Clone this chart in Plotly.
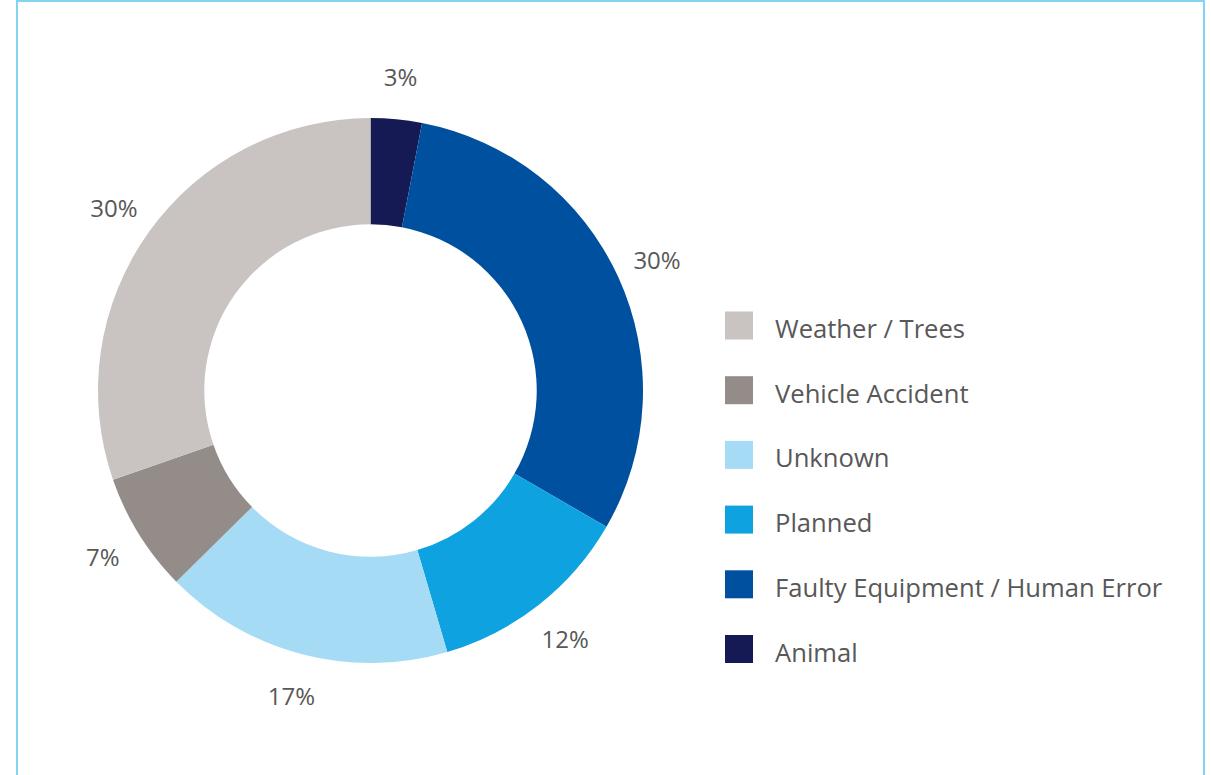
import plotly.graph_objects as go

# Data (legend order, top to bottom)
labels = ["Weather / Trees", "Vehicle Accident", "Unknown", "Planned",
          "Faulty Equipment / Human Error", "Animal"]
values = [30, 7, 17, 12, 30, 3]
colors = ["#c9c3c1", "#948c89", "#a6dbf5", "#0ea2e0", "#0050a0", "#151a54"]

W, H = 1211, 775
FONT = "'Open Sans', Lato, sans-serif"
TEXT_COLOR = "#585858"

# slices are drawn clockwise from 12 o'clock starting with the last legend entry
pie_labels = labels[::-1]
pie_values = values[::-1]
pie_colors = colors[::-1]

CX, CY, R = 370.5, 390.5, 272.5

def dom(r):
    return dict(x=[(CX - r) / W, (CX + r) / W], y=[1 - (CY + r) / H, 1 - (CY - r) / H])

fig = go.Figure()

# transparent thin outer ring that carries the percentage labels (centred on each slice's mid-angle)
R2 = 345
fig.add_trace(go.Pie(
    labels=pie_labels,
    values=pie_values,
    hole=0.826,
    sort=False,
    direction="clockwise",
    rotation=0,
    marker=dict(colors=["rgba(0,0,0,0)"] * len(pie_values), line=dict(width=0)),
    textposition="inside",
    insidetextorientation="horizontal",
    texttemplate="%{value}%",
    textfont=dict(family=FONT, size=24, color=TEXT_COLOR),
    showlegend=False,
    hoverinfo="skip",
    domain=dom(R2),
))

fig.add_trace(go.Pie(
    labels=pie_labels,
    values=pie_values,
    hole=0.61,
    sort=False,
    direction="clockwise",
    rotation=0,
    marker=dict(colors=pie_colors, line=dict(width=0)),
    textinfo="none",
    showlegend=False,
    hoverinfo="label+value",
    domain=dom(R),
))

# Custom legend (swatches + labels), positioned in paper space
shapes = []
annotations = []
top_c = 325.5
step = 64.7
sw = 28
for i, (lab, col) in enumerate(zip(labels, colors)):
    cy = top_c + i * step
    shapes.append(dict(type="rect", xref="paper", yref="paper",
                       x0=725 / W, x1=(725 + sw) / W,
                       y0=1 - (cy + sw / 2) / H, y1=1 - (cy - sw / 2) / H,
                       fillcolor=col, line=dict(width=0)))
    annotations.append(dict(text=lab, xref="paper", yref="paper",
                            x=773 / W, y=1 - (cy + 3) / H,
                            xanchor="left", yanchor="middle", showarrow=False,
                            font=dict(family=FONT, size=25.6, color=TEXT_COLOR)))

# Frame border
shapes.append(dict(type="rect", xref="paper", yref="paper",
                   x0=17 / W, x1=1204 / W, y0=-0.05, y1=1 - 1 / H,
                   line=dict(color="#84d3f1", width=2), fillcolor="rgba(0,0,0,0)",
                   layer="above"))

fig.update_layout(
    width=W, height=H,
    margin=dict(l=0, r=0, t=0, b=0),
    paper_bgcolor="white",
    plot_bgcolor="white",
    shapes=shapes,
    annotations=annotations,
)

fig.write_html("out.html")
